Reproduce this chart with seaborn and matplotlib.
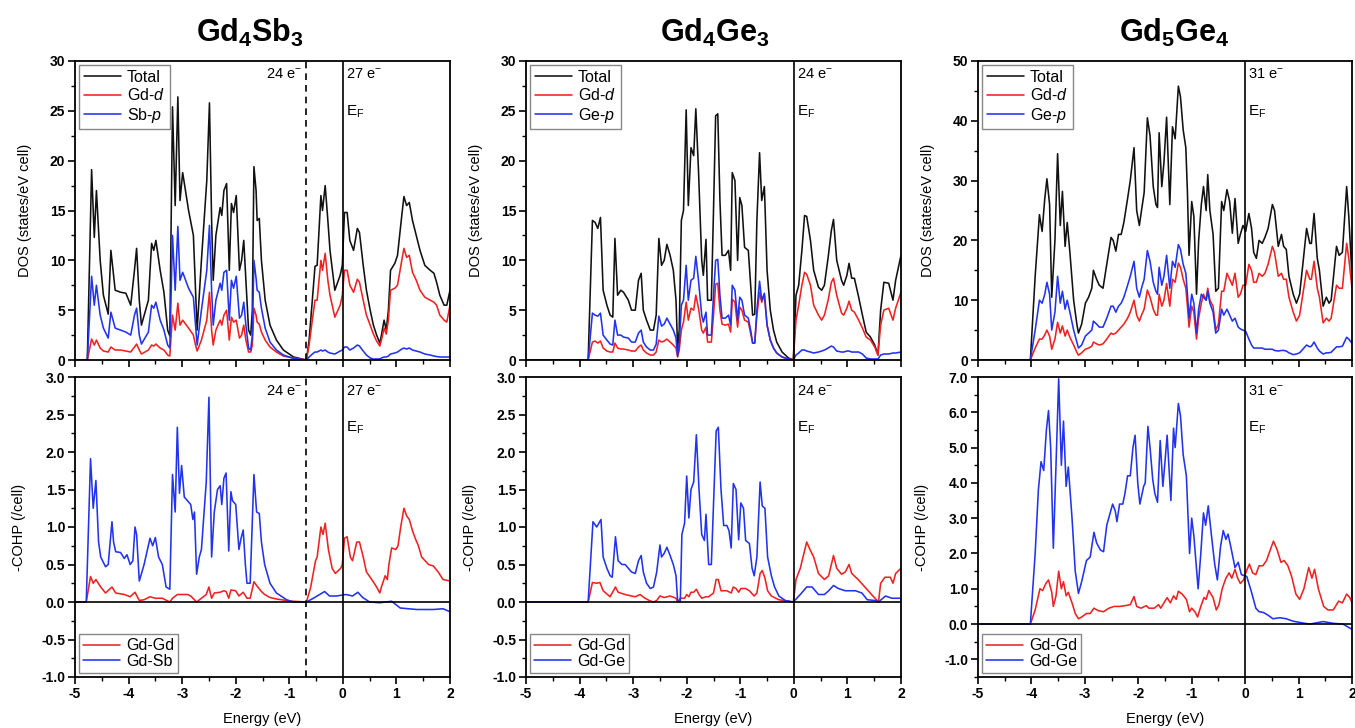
import numpy as np
import pandas as pd
import matplotlib
matplotlib.use("Agg")
import matplotlib.pyplot as plt
import matplotlib.transforms as mtransforms
from matplotlib.ticker import MultipleLocator, FormatStrFormatter
import seaborn as sns

sns.set_style("ticks")
plt.rcParams['font.family'] = ['Liberation Sans', 'DejaVu Sans']
plt.rcParams['mathtext.fontset'] = 'custom'
plt.rcParams['mathtext.rm'] = 'Liberation Sans'
plt.rcParams['mathtext.it'] = 'Liberation Sans:italic'
plt.rcParams['mathtext.bf'] = 'Liberation Sans:bold'
plt.rcParams['axes.unicode_minus'] = False
plt.rcParams['text.color'] = 'black'
plt.rcParams['axes.labelcolor'] = 'black'
plt.rcParams['xtick.color'] = 'black'
plt.rcParams['ytick.color'] = 'black'

# ---------------- data: Gd4Sb3 DOS ----------------
sb_E = [-5.00, -4.77, -4.69, -4.64, -4.60, -4.53, -4.47, -4.38, -4.33, -4.25,
        -4.15, -4.05, -3.96, -3.89, -3.85, -3.80, -3.76, -3.63, -3.57, -3.53,
        -3.49, -3.41, -3.34, -3.27, -3.23, -3.18, -3.13, -3.08, -3.04, -2.99,
        -2.88, -2.79, -2.75, -2.72, -2.64, -2.54, -2.49, -2.45, -2.42, -2.37,
        -2.29, -2.26, -2.22, -2.17, -2.12, -2.08, -2.04, -1.99, -1.93, -1.89,
        -1.85, -1.81, -1.76, -1.72, -1.69, -1.66, -1.62, -1.60, -1.56, -1.52,
        -1.45, -1.36, -1.24, -1.11, -0.92, -0.68, -0.63, -0.57, -0.52, -0.48,
        -0.41, -0.38, -0.33, -0.28, -0.24, -0.15, -0.05, -0.01, 0.03, 0.08,
        0.13, 0.20, 0.27, 0.31, 0.38, 0.44, 0.51, 0.57, 0.63, 0.69,
        0.72, 0.77, 0.81, 0.85, 0.89, 0.97, 1.02, 1.10, 1.14, 1.19,
        1.24, 1.30, 1.37, 1.44, 1.53, 1.63, 1.70, 1.75, 1.81, 1.89,
        1.94, 2.00]
sb_total = [0, 0, 19.1, 12.3, 17.0, 10, 6.5, 4.6, 11, 7,
            6.8, 6.7, 5.5, 9, 11.2, 6, 3.5, 6, 11.7, 11,
            12, 9, 6.8, 3, 2.4, 25.4, 15.5, 26.4, 16, 18.8,
            15, 12.5, 7, 3, 10, 18, 25.8, 14, 8, 12.5,
            15.3, 14.5, 17, 17.7, 9, 15.7, 14.8, 16.5, 9, 10,
            12, 8, 3, 2.5, 5, 19.4, 17, 14, 14.2, 10,
            6, 3.5, 2, 1, 0.3, 0, 2, 6, 9.4, 9.5,
            16.5, 15, 17.5, 14, 11, 7, 8.5, 9.5, 14.8, 14.8,
            12, 11, 13.2, 12.8, 9.5, 7, 5, 3.5, 2.5, 1.7,
            2.5, 4, 3, 5, 9, 9.7, 10.5, 14.5, 16.4, 15.5,
            15.8, 14, 12.5, 11, 9.5, 9, 8.7, 7.8, 6.5, 5.5,
            5.5, 7]
sb_gdd = [0, 0, 2.1, 1.5, 2.0, 1.2, 0.9, 0.8, 1.3, 1.0,
          1.0, 0.9, 0.8, 1.3, 1.6, 1.0, 0.6, 1.0, 1.5, 1.4,
          1.6, 1.2, 1.0, 0.5, 0.4, 4.5, 3.0, 5.7, 3.5, 4.0,
          3.2, 2.5, 1.5, 0.9, 2.0, 4.0, 6.8, 3.0, 1.5, 3.0,
          4.0, 3.5, 4.5, 5.0, 2.0, 4.3, 3.8, 4.0, 2.2, 2.5,
          3.5, 2.0, 0.8, 0.8, 1.5, 5.2, 4.5, 3.8, 3.6, 2.8,
          2.0, 1.3, 0.8, 0.4, 0.2, 0, 1.5, 4, 6, 6,
          10, 9, 10.7, 8, 6.5, 4.3, 5.5, 6.5, 9, 9,
          7.5, 6.8, 8.1, 7.8, 6, 4.5, 3.5, 2.6, 1.9, 1.4,
          2.0, 3.2, 2.6, 4.0, 7.0, 7.2, 7.5, 10.0, 11.2, 10.3,
          10.5, 8.8, 8.0, 7.0, 6.3, 6.0, 5.8, 5.5, 4.5, 4.0,
          3.8, 5.5]
sb_sbp = [0, 0, 8.4, 5.5, 7.5, 4.5, 3.2, 2.2, 4.8, 3.2,
          3.0, 2.8, 2.5, 4.5, 5.2, 2.5, 1.6, 2.8, 5.5, 5.2,
          5.8, 4.0, 3.0, 1.5, 1.2, 12.5, 7, 13.4, 8, 8.8,
          7.2, 6.3, 3.5, 1.5, 5, 9, 13.5, 7, 3.5, 6,
          7.7, 7, 8.8, 9, 4, 8, 7.2, 8.4, 4.2, 4.5,
          5.8, 3.5, 1.2, 1.0, 2.5, 10, 8.2, 7, 6.8, 5.2,
          3.2, 1.8, 1.0, 0.5, 0.15, 0, 0.3, 0.6, 0.8, 0.8,
          1.0, 0.9, 1.0, 0.8, 0.7, 0.6, 0.9, 1.0, 1.3, 1.3,
          1.0, 1.2, 1.5, 1.4, 0.9, 0.5, 0.2, 0.1, 0.1, 0.1,
          0.2, 0.3, 0.3, 0.4, 0.6, 0.7, 0.8, 1.1, 1.2, 1.1,
          1.2, 1.0, 0.9, 0.8, 0.6, 0.5, 0.4, 0.35, 0.3, 0.3,
          0.3, 0.3]

# ---------------- data: Gd4Sb3 COHP ----------------
sb_gdsb_E = [-5.0, -4.79, -4.71, -4.66, -4.61, -4.56, -4.52, -4.43, -4.38, -4.31,
             -4.28, -4.24, -4.15, -4.08, -4.03, -3.97, -3.92, -3.88, -3.85, -3.80,
             -3.71, -3.60, -3.55, -3.50, -3.44, -3.37, -3.30, -3.23, -3.18, -3.13,
             -3.09, -3.05, -3.01, -2.96, -2.90, -2.84, -2.80, -2.77, -2.73, -2.68,
             -2.64, -2.55, -2.50, -2.45, -2.40, -2.34, -2.29, -2.26, -2.22, -2.18,
             -2.13, -2.09, -2.06, -2.00, -1.94, -1.90, -1.86, -1.82, -1.79, -1.73,
             -1.66, -1.61, -1.56, -1.52, -1.46, -1.36, -1.24, -1.05, -0.93, -0.68,
             -0.55, -0.34, -0.25, -0.12, 0.06, 0.18, 0.28, 0.37, 0.50, 0.69,
             0.91, 1.07, 1.38, 1.69, 1.87, 2.0]
sb_gdsb = [0, 0, 1.91, 1.25, 1.62, 0.8, 0.6, 0.47, 0.5, 1.07,
           0.8, 0.67, 0.66, 0.58, 0.63, 0.5, 0.55, 1.0, 0.9, 0.28,
           0.5, 0.85, 0.75, 0.86, 0.6, 0.5, 0.2, 0.17, 1.7, 1.2,
           2.33, 1.45, 1.82, 1.4, 1.35, 1.3, 1.1, 1.2, 0.37, 0.6,
           0.7, 1.6, 2.73, 0.6, 1.2, 1.5, 1.55, 1.3, 1.65, 1.72,
           0.68, 1.47, 1.35, 1.3, 0.7, 0.85, 0.96, 0.5, 0.25, 0.25,
           1.7, 1.2, 1.18, 0.8, 0.5, 0.25, 0.12, 0.03, 0.0, 0,
           0.05, 0.14, 0.08, 0.08, 0.1, 0.08, 0.13, 0.06, 0.0, -0.01,
           0.01, -0.08, -0.1, -0.1, -0.09, -0.13]
sb_gdgd_E = [-5.0, -4.79, -4.71, -4.66, -4.61, -4.52, -4.43, -4.31, -4.24, -4.08,
             -3.97, -3.88, -3.80, -3.71, -3.60, -3.50, -3.37, -3.23, -3.18, -3.09,
             -3.01, -2.90, -2.84, -2.73, -2.64, -2.55, -2.50, -2.45, -2.40, -2.29,
             -2.22, -2.18, -2.13, -2.09, -2.00, -1.94, -1.86, -1.79, -1.73, -1.66,
             -1.61, -1.52, -1.46, -1.36, -1.24, -1.05, -0.93, -0.68, -0.60, -0.51,
             -0.48, -0.41, -0.37, -0.33, -0.27, -0.20, -0.14, -0.04, -0.01, 0.03,
             0.08, 0.14, 0.18, 0.26, 0.31, 0.38, 0.44, 0.54, 0.63, 0.69,
             0.72, 0.79, 0.83, 0.86, 0.91, 0.99, 1.03, 1.08, 1.14, 1.19,
             1.24, 1.30, 1.35, 1.41, 1.47, 1.60, 1.69, 1.78, 1.87, 2.0]
sb_gdgd = [0, 0, 0.34, 0.25, 0.3, 0.2, 0.12, 0.2, 0.12, 0.1,
           0.07, 0.13, 0.02, 0.03, 0.07, 0.05, 0.05, 0.0, 0.05, 0.1,
           0.1, 0.1, 0.08, 0.0, 0.05, 0.1, 0.2, 0.05, 0.12, 0.13,
           0.15, 0.14, 0.05, 0.16, 0.15, 0.08, 0.13, 0.05, 0.05, 0.27,
           0.22, 0.14, 0.1, 0.06, 0.04, 0.02, 0.01, 0, 0.2, 0.55,
           0.6, 1.0, 0.9, 1.05, 0.7, 0.45, 0.38, 0.45, 0.5, 0.85,
           0.87, 0.6, 0.55, 0.8, 0.8, 0.6, 0.4, 0.3, 0.2, 0.12,
           0.2, 0.35, 0.3, 0.5, 0.72, 0.7, 0.75, 1.0, 1.25, 1.15,
           1.1, 0.95, 0.85, 0.75, 0.6, 0.5, 0.48, 0.4, 0.3, 0.28]

# ---------------- data: Gd4Ge3 DOS ----------------
ge43_E = [-5.00, -3.84, -3.76, -3.71, -3.66, -3.61, -3.56, -3.49, -3.43, -3.38,
          -3.34, -3.29, -3.23, -3.18, -3.09, -3.03, -2.96, -2.90, -2.85, -2.81,
          -2.75, -2.68, -2.62, -2.57, -2.52, -2.47, -2.42, -2.37, -2.31, -2.25,
          -2.20, -2.17, -2.14, -2.10, -2.06, -2.01, -1.97, -1.92, -1.87, -1.83,
          -1.78, -1.72, -1.69, -1.64, -1.61, -1.54, -1.50, -1.46, -1.42, -1.38,
          -1.34, -1.28, -1.22, -1.18, -1.15, -1.10, -1.05, -1.01, -0.97, -0.92,
          -0.85, -0.80, -0.77, -0.73, -0.69, -0.64, -0.60, -0.55, -0.50, -0.44,
          -0.38, -0.32, -0.22, -0.10, -0.01, 0.04, 0.09, 0.15, 0.20, 0.24,
          0.31, 0.37, 0.46, 0.52, 0.57, 0.64, 0.70, 0.74, 0.80, 0.89,
          0.93, 0.99, 1.03, 1.08, 1.13, 1.21, 1.28, 1.35, 1.43, 1.51,
          1.57, 1.62, 1.68, 1.77, 1.85, 1.90, 2.00]
ge43_total = [0, 0, 14, 13.8, 13.2, 14.3, 7, 5.5, 4.5, 4.3,
              12.2, 6.5, 7, 6.8, 6, 5, 5, 8, 8.7, 5,
              4, 3, 3, 4.5, 12.2, 9.5, 10, 11.6, 10.5, 9,
              6, 1.2, 3, 14, 15, 25.1, 15.5, 21.3, 20.5, 25.2,
              19, 10, 8.5, 12.1, 6, 6, 15, 24.5, 24.7, 16,
              10.5, 10.5, 11, 9, 18.8, 18, 10, 16.3, 15.5, 11.3,
              11, 7, 4.5, 4.6, 14, 20.8, 16, 17.4, 9, 5,
              3, 1.8, 0.8, 0.2, 0, 6.5, 7.5, 11, 14.5, 14.4,
              12, 9, 7.3, 7, 7.5, 10.3, 13, 14.1, 10, 8,
              7.5, 8.5, 9.7, 8.2, 8.2, 6.3, 4.5, 2.8, 2.3, 1.5,
              0.5, 5, 7.8, 7.7, 6, 8, 10.5]
ge43_gdd = [0, 0, 1.8, 1.9, 1.7, 1.9, 1.2, 0.9, 0.8, 0.8,
            1.7, 1.2, 1.1, 1.1, 1.0, 0.9, 0.9, 1.3, 1.5, 1.0,
            0.7, 0.5, 0.5, 0.8, 2.0, 1.8, 1.9, 2.1, 1.8, 1.5,
            1.2, 0.3, 1.0, 3.0, 3.8, 5.8, 4.0, 5.2, 5.0, 6.5,
            5.2, 3.0, 2.7, 3.3, 1.8, 1.8, 4.5, 7.6, 7.7, 5,
            3.6, 3.5, 3.6, 2.8, 6.1, 5.8, 3.3, 5.3, 5.0, 4.0,
            3.8, 2.5, 1.7, 1.7, 4.5, 6.8, 5.8, 6.5, 3.5, 2,
            1.2, 0.7, 0.3, 0.1, 0, 4, 5.5, 7.5, 8.8, 8.6,
            7.5, 5.5, 4.5, 4.0, 4.5, 6, 7.8, 8.2, 6.5, 4.7,
            4.5, 5.2, 5.9, 5.0, 4.8, 4.0, 3.2, 2.3, 2.0, 1.3,
            0.5, 3.5, 5, 5.2, 4.0, 5.2, 6.8]
ge43_gep = [0, 0, 4.7, 4.5, 4.4, 4.7, 2.5, 2, 1.6, 1.5,
            4.0, 2.5, 2.5, 2.3, 2.2, 1.8, 1.8, 2.7, 3.0, 1.8,
            1.3, 1.0, 1.0, 1.6, 4.4, 3.4, 3.6, 4.2, 3.6, 3,
            2.2, 0.4, 1.5, 5.5, 6.0, 9.5, 6.0, 8.0, 8.2, 10.4,
            8, 4.5, 3.8, 4.8, 2.5, 2.5, 6.5, 10.0, 10.1, 6.5,
            4.2, 4.2, 4.5, 3.5, 7.5, 7.0, 4.0, 6.3, 6.0, 4.5,
            4.2, 2.8, 1.7, 1.7, 5, 7.9, 6.0, 6.7, 3.5, 2,
            1.2, 0.7, 0.3, 0.1, 0, 0.5, 0.7, 1.0, 1.0, 0.9,
            0.8, 0.7, 0.8, 0.9, 1.0, 1.2, 1.4, 1.3, 0.9, 0.8,
            0.8, 0.9, 0.9, 0.8, 0.8, 0.8, 0.6, 0.2, 0.1, 0.1,
            0.1, 0.5, 0.6, 0.6, 0.7, 0.7, 0.8]

# ---------------- data: Gd4Ge3 COHP ----------------
ge43_gdge_E = [-5.0, -3.84, -3.75, -3.68, -3.60, -3.56, -3.49, -3.43, -3.39, -3.33,
               -3.28, -3.21, -3.15, -3.09, -3.03, -2.96, -2.90, -2.85, -2.81, -2.75,
               -2.68, -2.62, -2.56, -2.50, -2.47, -2.42, -2.37, -2.31, -2.25, -2.20,
               -2.17, -2.12, -2.09, -2.04, -2.00, -1.96, -1.92, -1.87, -1.82, -1.77,
               -1.72, -1.67, -1.64, -1.59, -1.54, -1.50, -1.45, -1.41, -1.36, -1.31,
               -1.25, -1.21, -1.17, -1.13, -1.08, -1.03, -0.99, -0.94, -0.90, -0.83,
               -0.78, -0.74, -0.69, -0.63, -0.59, -0.54, -0.49, -0.42, -0.36, -0.28,
               -0.16, -0.01, 0.12, 0.24, 0.34, 0.46, 0.57, 0.65, 0.74, 0.83,
               0.96, 1.15, 1.27, 1.37, 1.52, 1.58, 1.71, 1.83, 2.0]
ge43_gdge = [0, 0, 1.07, 1.0, 1.1, 0.6, 0.45, 0.35, 0.33, 0.87,
             0.55, 0.5, 0.5, 0.45, 0.4, 0.38, 0.55, 0.62, 0.4, 0.25,
             0.18, 0.2, 0.4, 0.76, 0.6, 0.65, 0.73, 0.62, 0.5, 0.35,
             0.02, 0.0, 0.9, 1.05, 1.68, 1.12, 1.5, 1.6, 2.23, 1.5,
             0.9, 0.82, 1.17, 0.5, 0.5, 1.3, 2.28, 2.33, 1.5, 1.02,
             1.02, 0.95, 0.72, 1.58, 1.5, 0.83, 1.32, 1.25, 0.82, 0.78,
             0.45, 0.35, 0.6, 1.6, 1.28, 1.25, 0.6, 0.35, 0.2, 0.08,
             0.02, 0, 0.1, 0.2, 0.2, 0.1, 0.1, 0.15, 0.22, 0.18,
             0.15, 0.15, 0.12, 0.03, 0.02, 0.0, 0.08, 0.05, 0.05]
ge43_gdgd_E = [-5.0, -3.84, -3.76, -3.68, -3.62, -3.56, -3.43, -3.33, -3.28, -3.15,
               -3.03, -2.96, -2.87, -2.80, -2.70, -2.62, -2.56, -2.50, -2.42, -2.31,
               -2.20, -2.17, -2.12, -2.04, -2.00, -1.96, -1.92, -1.87, -1.82, -1.77,
               -1.72, -1.64, -1.59, -1.50, -1.45, -1.41, -1.36, -1.25, -1.17, -1.13,
               -1.08, -1.03, -0.99, -0.90, -0.83, -0.74, -0.69, -0.63, -0.59, -0.54,
               -0.49, -0.42, -0.28, -0.01, 0.04, 0.12, 0.24, 0.30, 0.37, 0.46,
               0.57, 0.65, 0.74, 0.80, 0.89, 0.96, 1.03, 1.08, 1.20, 1.35,
               1.45, 1.58, 1.62, 1.70, 1.80, 1.85, 1.90, 2.0]
ge43_gdgd = [0, 0, 0.26, 0.25, 0.26, 0.15, 0.07, 0.2, 0.13, 0.1,
             0.08, 0.07, 0.1, 0.06, 0.02, 0.0, 0.02, 0.08, 0.06, 0.08,
             0.05, 0.0, 0.05, 0.05, 0.1, 0.07, 0.13, 0.13, 0.17, 0.1,
             0.05, 0.07, 0.07, 0.12, 0.3, 0.3, 0.15, 0.15, 0.12, 0.2,
             0.18, 0.13, 0.18, 0.18, 0.15, 0.08, 0.12, 0.38, 0.42, 0.32,
             0.15, 0.08, 0.03, 0.0, 0.3, 0.45, 0.8, 0.7, 0.6, 0.38,
             0.3, 0.35, 0.62, 0.45, 0.37, 0.4, 0.5, 0.38, 0.3, 0.18,
             0.1, 0.0, 0.25, 0.33, 0.33, 0.25, 0.38, 0.45]

# ---------------- data: Gd5Ge4 DOS ----------------
ge54_E = [-5.00, -4.02, -3.93, -3.85, -3.80, -3.75, -3.71, -3.66, -3.62, -3.56,
          -3.51, -3.46, -3.42, -3.37, -3.33, -3.28, -3.21, -3.15, -3.12, -3.06,
          -2.99, -2.93, -2.87, -2.84, -2.78, -2.73, -2.66, -2.59, -2.51, -2.47,
          -2.42, -2.37, -2.32, -2.27, -2.20, -2.15, -2.08, -2.03, -1.98, -1.94,
          -1.89, -1.83, -1.78, -1.72, -1.67, -1.64, -1.61, -1.56, -1.52, -1.47,
          -1.41, -1.36, -1.31, -1.25, -1.21, -1.16, -1.11, -1.08, -1.05, -1.00,
          -0.96, -0.91, -0.87, -0.82, -0.78, -0.73, -0.70, -0.66, -0.60, -0.55,
          -0.50, -0.44, -0.40, -0.34, -0.29, -0.24, -0.19, -0.13, -0.09, -0.04,
          0.01, 0.07, 0.12, 0.16, 0.21, 0.26, 0.32, 0.37, 0.43, 0.51,
          0.55, 0.62, 0.68, 0.72, 0.77, 0.82, 0.90, 0.96, 1.02, 1.08,
          1.15, 1.21, 1.24, 1.29, 1.35, 1.39, 1.46, 1.52, 1.57, 1.61,
          1.71, 1.76, 1.82, 1.90, 1.94, 2.00]
ge54_total = [0, 0, 14, 24.3, 21.5, 27, 30.3, 26, 10.5, 20,
              34.5, 22.5, 28.2, 19, 23, 18, 10, 6, 4.5, 6,
              9.5, 10.5, 12, 15, 13.5, 12.5, 12, 16, 20.5, 20,
              18.2, 21, 21, 23, 27, 30, 35.5, 25, 22.5, 25,
              28, 40.5, 37.5, 29, 26, 25.5, 38, 29, 33, 40.6,
              26, 39, 37, 45.8, 44, 38.5, 35.5, 28, 17.5, 26.5,
              24, 11, 20, 26, 29, 25, 31, 25, 21, 11.5,
              12, 26.5, 25, 28.5, 26.5, 21.2, 27, 19.5, 21, 22.5,
              21.5, 24.5, 22, 18, 17, 20, 19.5, 20.5, 22, 26,
              25, 19, 21, 19, 18.5, 14, 11, 9.5, 11, 16,
              22, 19.5, 19.5, 24.5, 17, 15, 9, 10.5, 9.5, 10,
              19, 17.5, 18, 29, 24, 14]
ge54_gdd = [0, 0, 2, 3.5, 3.5, 4.2, 5, 4, 1.8, 3.5,
            6.3, 4.5, 5.7, 4, 5, 3.8, 2.5, 1.3, 0.8, 1.2,
            1.8, 2, 2.3, 3.0, 2.7, 2.5, 2.7, 3.5, 4.5, 4.3,
            4.5, 5, 5.5, 6, 7, 8, 10, 7.5, 6.5, 7.5,
            8.5, 11.7, 10.5, 8.5, 7.5, 7.5, 11, 9, 10, 12.8,
            9, 13.5, 13, 16.2, 15.5, 13.5, 12, 9, 5.5, 9,
            8, 3.5, 7, 9.5, 11, 10, 12, 10, 9, 5,
            6, 11.5, 11.5, 14.5, 13.5, 12.5, 14.5, 10.5, 11, 12.5,
            12.5, 16, 15, 13, 13, 14.5, 14, 14.5, 16, 19,
            18, 14, 14.5, 13.5, 13.5, 10.5, 8, 6.5, 7.5, 11,
            15, 13.5, 13.5, 16.5, 12, 10.5, 6.2, 7, 6.5, 7,
            12.5, 12, 12, 19.5, 17, 12]
ge54_gep = [0, 0, 5, 10, 9.5, 11, 13, 11, 5, 8,
            14, 9.5, 11.5, 8.5, 10, 8, 5, 3, 2, 2.5,
            4, 4.5, 5, 6.5, 6, 5.5, 5.5, 7, 9, 9,
            8, 9, 9.5, 10.5, 12.5, 14, 16.5, 12, 10.5, 12,
            13.5, 18.3, 16.5, 13, 11.5, 11, 15.5, 12.5, 14, 17.5,
            12, 16.5, 15.5, 19.3, 18.5, 16, 14.5, 11, 7, 11,
            9.5, 4.5, 8.5, 11, 10.5, 10, 11.5, 9.5, 8, 4.5,
            5, 8.5, 7.5, 8.5, 7.5, 6.5, 7, 5.5, 5.2, 5,
            4.8, 3.5, 2.5, 2.0, 2.0, 2.0, 2.0, 1.8, 1.8, 1.8,
            1.6, 1.5, 1.6, 1.6, 1.5, 1.2, 0.9, 1.0, 1.2, 1.8,
            2.5, 2.2, 2.3, 3, 2, 1.5, 1.0, 1.2, 1.2, 1.3,
            2.2, 2.2, 2.3, 3.8, 3.5, 2.8]

# ---------------- data: Gd5Ge4 COHP ----------------
ge54_gdge_E = [-5.0, -4.02, -3.93, -3.87, -3.82, -3.77, -3.72, -3.68, -3.64, -3.59,
               -3.54, -3.49, -3.44, -3.40, -3.35, -3.31, -3.24, -3.18, -3.12, -3.06,
               -2.97, -2.90, -2.83, -2.78, -2.71, -2.65, -2.59, -2.48, -2.43, -2.40,
               -2.35, -2.29, -2.25, -2.20, -2.15, -2.10, -2.06, -2.01, -1.97, -1.90,
               -1.87, -1.82, -1.78, -1.73, -1.69, -1.64, -1.59, -1.54, -1.50, -1.46,
               -1.39, -1.34, -1.31, -1.25, -1.21, -1.16, -1.10, -1.04, -1.00, -0.96,
               -0.88, -0.83, -0.78, -0.74, -0.69, -0.63, -0.57, -0.52, -0.46, -0.41,
               -0.36, -0.32, -0.27, -0.19, -0.13, -0.07, 0.03, 0.12, 0.20, 0.26,
               0.34, 0.43, 0.52, 0.65, 0.77, 0.90, 1.08, 1.21, 1.46, 1.65,
               1.83, 2.0]
ge54_gdge = [0, 0, 2.0, 3.8, 4.6, 4.35, 5.5, 6.05, 5.0, 2.15,
             4.5, 6.95, 4.5, 5.75, 3.9, 4.45, 3.0, 1.5, 0.87, 1.2,
             1.8, 1.9, 2.6, 2.3, 2.1, 2.05, 2.8, 3.4, 3.2, 2.9,
             3.4, 3.4, 3.7, 4.2, 4.2, 5.0, 5.35, 4.0, 3.4, 3.9,
             4.0, 5.6, 5.0, 4.1, 3.7, 3.45, 5.2, 3.9, 4.6, 5.35,
             3.5, 5.55, 5.0, 6.25, 5.9, 4.8, 4.2, 2.0, 3.0, 2.5,
             1.0, 2.0, 3.15, 2.8, 3.35, 2.5, 1.7, 1.25, 2.2, 2.65,
             2.4, 2.55, 2.2, 1.6, 1.75, 1.4, 1.35, 0.9, 0.45, 0.35,
             0.33, 0.25, 0.15, 0.18, 0.15, 0.08, 0.03, 0.0, 0.07, 0.02,
             0.0, -0.15]
ge54_gdgd_E = [-5.0, -4.02, -3.93, -3.84, -3.79, -3.73, -3.68, -3.62, -3.59, -3.54,
               -3.49, -3.44, -3.40, -3.35, -3.31, -3.24, -3.18, -3.12, -3.06, -2.97,
               -2.90, -2.83, -2.75, -2.65, -2.55, -2.45, -2.35, -2.25, -2.15, -2.08,
               -2.03, -1.95, -1.85, -1.80, -1.70, -1.62, -1.58, -1.52, -1.46, -1.40,
               -1.34, -1.29, -1.25, -1.18, -1.10, -1.04, -1.00, -0.94, -0.89, -0.83,
               -0.77, -0.73, -0.68, -0.60, -0.54, -0.49, -0.43, -0.36, -0.30, -0.25,
               -0.19, -0.14, -0.09, -0.03, 0.01, 0.08, 0.14, 0.20, 0.26, 0.33,
               0.40, 0.47, 0.53, 0.60, 0.67, 0.73, 0.80, 0.87, 0.95, 1.02,
               1.10, 1.19, 1.25, 1.30, 1.37, 1.47, 1.55, 1.65, 1.75, 1.82,
               1.90, 1.96, 2.0]
ge54_gdgd = [0, 0, 0.4, 1.0, 0.95, 1.15, 1.25, 0.9, 0.5, 0.8,
             1.5, 1.0, 1.2, 0.8, 0.9, 0.6, 0.3, 0.15, 0.2, 0.3,
             0.3, 0.45, 0.38, 0.35, 0.45, 0.5, 0.5, 0.52, 0.55, 0.78,
             0.5, 0.45, 0.52, 0.45, 0.45, 0.55, 0.45, 0.6, 0.75, 0.6,
             0.8, 0.7, 0.93, 0.85, 0.7, 0.35, 0.45, 0.35, 0.2, 0.5,
             0.75, 0.7, 0.95, 0.75, 0.4, 0.55, 1.0, 1.3, 1.45, 1.3,
             1.55, 1.3, 1.15, 1.25, 1.45, 1.7, 1.45, 1.4, 1.65, 1.65,
             1.8, 2.1, 2.35, 2.1, 1.75, 1.8, 1.65, 1.35, 0.85, 0.7,
             1.0, 1.6, 1.3, 1.55, 1.0, 0.5, 0.4, 0.4, 0.65, 0.6,
             0.85, 0.75, 0.6]

titles = [r"Gd$_\mathbf{4}$Sb$_\mathbf{3}$", r"Gd$_\mathbf{4}$Ge$_\mathbf{3}$",
          r"Gd$_\mathbf{5}$Ge$_\mathbf{4}$"]
electron_labels = ["27", "24", "31"]
dos_ylims = [(0, 30), (0, 30), (0, 50)]
dos_steps = [5, 5, 10]
cohp_ylims = [(-1.0, 3.0), (-1.0, 3.0), (-1.5, 7.0)]
cohp_steps = [0.5, 0.5, 1.0]

BLACK, RED, BLUE = "#111111", "#ee2222", "#2233ee"

# ---------------- figure ----------------
fig = plt.figure(figsize=(13.55, 7.28), dpi=100)
lefts = [75 / 1355, 526 / 1355, 978 / 1355]
widths = [375 / 1355, 375 / 1355, 374 / 1355]
dos_bottom, dos_h = 1 - 360 / 728, 299 / 728
cohp_bottom, cohp_h = 1 - 677 / 728, 300 / 728
title_x = [250 / 1355, 715 / 1355, 1174 / 1355]

dos_sets = [
    (sb_E, sb_total, sb_gdd, sb_sbp, "Sb-$p$"),
    (ge43_E, ge43_total, ge43_gdd, ge43_gep, "Ge-$p$"),
    (ge54_E, ge54_total, ge54_gdd, ge54_gep, "Ge-$p$"),
]
cohp_sets = [
    (sb_gdgd_E, sb_gdgd, sb_gdsb_E, sb_gdsb, "Gd-Sb"),
    (ge43_gdgd_E, ge43_gdgd, ge43_gdge_E, ge43_gdge, "Gd-Ge"),
    (ge54_gdgd_E, ge54_gdgd, ge54_gdge_E, ge54_gdge, "Gd-Ge"),
]

LW = 1.15
SP = 1.3


def style_axes(ax, ylim, ystep, fmt, show_x):
    ax.set_xlim(-5, 2)
    ax.set_ylim(*ylim)
    ax.xaxis.set_major_locator(MultipleLocator(1))
    ax.xaxis.set_minor_locator(MultipleLocator(0.5))
    ax.yaxis.set_major_locator(MultipleLocator(ystep))
    ax.yaxis.set_minor_locator(MultipleLocator(ystep / 2))
    ax.yaxis.set_major_formatter(FormatStrFormatter(fmt))
    ax.tick_params(axis='both', which='both', bottom=True, left=True,
                   top=False, right=False)
    ax.tick_params(axis='both', which='major', direction='out', length=5,
                   width=1.2, labelsize=10, pad=2, colors='black')
    ax.tick_params(axis='both', which='minor', direction='out', length=3,
                   width=1.0, colors='black')
    ax.tick_params(axis='x', labelbottom=show_x)
    for lab in ax.get_xticklabels() + ax.get_yticklabels():
        lab.set_fontweight('bold')
    for s in ax.spines.values():
        s.set_visible(True)
        s.set_linewidth(SP)
        s.set_color('black')


for i in range(3):
    E, tot, gdd, xp, xlabel = dos_sets[i]
    ax = fig.add_axes([lefts[i], dos_bottom, widths[i], dos_h])
    dfd = pd.DataFrame({"E": E, "Total": tot, "Gd-d": gdd, "X-p": xp})
    sns.lineplot(data=dfd, x="E", y="Total", ax=ax, color=BLACK, lw=LW,
                 label="Total", estimator=None, sort=False)
    sns.lineplot(data=dfd, x="E", y="Gd-d", ax=ax, color=RED, lw=LW,
                 label="Gd-$d$", estimator=None, sort=False)
    sns.lineplot(data=dfd, x="E", y="X-p", ax=ax, color=BLUE, lw=LW,
                 label=xlabel, estimator=None, sort=False)
    style_axes(ax, dos_ylims[i], dos_steps[i], "%d", False)
    ax.set_xlabel("")
    ax.set_ylabel("DOS (states/eV cell)", fontsize=10.5, labelpad=13)
    ax.axvline(0, color='black', lw=1.2)
    leg = ax.legend(loc='upper left', fontsize=11.5, handlelength=2.3,
                    handletextpad=0.4, labelspacing=0.15, borderpad=0.3,
                    borderaxespad=0.25, fancybox=False, framealpha=1)
    leg.get_frame().set_edgecolor('#888888')
    leg.get_frame().set_linewidth(1.0)

    trans = mtransforms.blended_transform_factory(ax.transData, ax.transAxes)
    ax.text(0.05, 0.955, electron_labels[i] + r" e$^{\mathregular{-}}$",
            transform=trans, fontsize=10.5, ha='left', va='center')
    ax.text(0.05, 0.83, r"E$_{\mathregular{F}}$", transform=trans,
            fontsize=11, ha='left', va='center')
    if i == 0:
        ax.axvline(-0.68, color='black', lw=1.2, ls=(0, (4, 3)))
        ax.text(-0.76, 0.955, r"24 e$^{\mathregular{-}}$", transform=trans,
                fontsize=10.5, ha='right', va='center')

    fig.text(title_x[i], 1 - 33 / 728, titles[i], fontsize=22,
             fontweight='bold', ha='center', va='center')

    # COHP panel
    gx, gy, bx, by, blabel = cohp_sets[i]
    ax2 = fig.add_axes([lefts[i], cohp_bottom, widths[i], cohp_h])
    df_r = pd.DataFrame({"E": gx, "v": gy})
    df_b = pd.DataFrame({"E": bx, "v": by})
    sns.lineplot(data=df_r, x="E", y="v", ax=ax2, color=RED, lw=LW,
                 label="Gd-Gd", estimator=None, sort=False)
    sns.lineplot(data=df_b, x="E", y="v", ax=ax2, color=BLUE, lw=LW,
                 label=blabel, estimator=None, sort=False)
    style_axes(ax2, cohp_ylims[i], cohp_steps[i], "%.1f", True)
    ax2.set_xlabel("Energy (eV)", fontsize=10.5, labelpad=8)
    ax2.set_ylabel("-COHP (/cell)", fontsize=10.5, labelpad=11)
    ax2.axvline(0, color='black', lw=1.2)
    ax2.axhline(0, color='black', lw=1.2)
    leg2 = ax2.legend(loc='lower left', fontsize=11.5, handlelength=2.3,
                      handletextpad=0.4, labelspacing=0.05, borderpad=0.25,
                      borderaxespad=0.25, fancybox=False, framealpha=1)
    leg2.get_frame().set_edgecolor('#888888')
    leg2.get_frame().set_linewidth(1.0)
    trans2 = mtransforms.blended_transform_factory(ax2.transData, ax2.transAxes)
    ax2.text(0.05, 0.955, electron_labels[i] + r" e$^{\mathregular{-}}$",
             transform=trans2, fontsize=10.5, ha='left', va='center')
    ax2.text(0.05, 0.83, r"E$_{\mathregular{F}}$", transform=trans2,
             fontsize=11, ha='left', va='center')
    if i == 0:
        ax2.axvline(-0.68, color='black', lw=1.2, ls=(0, (4, 3)))
        ax2.text(-0.76, 0.955, r"24 e$^{\mathregular{-}}$", transform=trans2,
                 fontsize=10.5, ha='right', va='center')

fig.savefig("out.png", dpi=100)
